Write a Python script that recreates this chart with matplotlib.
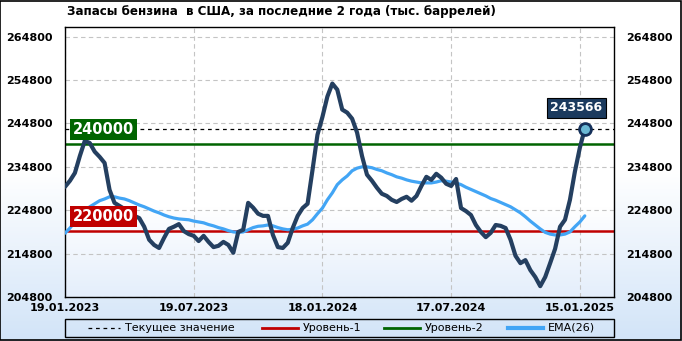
import numpy as np
import matplotlib.pyplot as plt
from matplotlib.colors import LinearSegmentedColormap
from matplotlib.lines import Line2D

title = "Запасы бензина  в США, за последние 2 года (тыс. баррелей)"

# weekly gasoline stocks, thousand barrels
stocks = [230200, 231600, 233400, 237300, 240800, 240300, 238300, 237100, 235700, 229500,
          226500, 225800, 225100, 224200, 223500, 223000, 221000, 218000, 216800, 216100,
          218400, 220500, 221000, 221600, 220000, 219300, 218900, 217700, 218900, 217500,
          216300, 216600, 217500, 216800, 215000, 219800, 220300, 226500, 225400, 224000,
          223500, 223500, 219100, 216300, 216100, 217300, 220700, 223500, 225300, 226300,
          234100, 242200, 246300, 251000, 254000, 252600, 248000, 247300, 245900, 242700,
          237300, 233000, 231600, 230000, 228600, 228100, 227200, 226700, 227400, 227900,
          227000, 228100, 230400, 232500, 231800, 233200, 232300, 230900, 230400, 232000,
          225300, 224600, 223700, 221400, 219800, 218600, 219600, 221400, 221200, 220700,
          218000, 214300, 212600, 213300, 211000, 209400, 207300, 209400, 212600, 215900,
          221000, 222600, 227200, 233700, 239200, 243566]

ema26 = [219500, 220700, 222100, 223300, 224400, 225600, 226300, 227000, 227400, 227900,
         227900, 227600, 227400, 227000, 226500, 226000, 225600, 225100, 224600, 224200,
         223700, 223300, 223000, 222800, 222700, 222600, 222300, 222100, 221900, 221500,
         221200, 220800, 220500, 220100, 219800, 219700, 219800, 220300, 220800, 221100,
         221200, 221400, 221200, 220800, 220500, 220300, 220400, 220700, 221200, 221600,
         222600, 224000, 225300, 227200, 228800, 230700, 231800, 232700, 233900, 234500,
         234800, 234800, 234600, 234200, 233900, 233400, 233000, 232500, 232200, 231800,
         231500, 231300, 231100, 231100, 231100, 231300, 231600, 231500, 231300, 231100,
         230700, 230100, 229600, 229100, 228600, 228100, 227500, 227100, 226600, 226100,
         225600, 224900, 224200, 223300, 222300, 221400, 220500, 219700, 219300, 219100,
         219100, 219300, 219800, 221000, 222100, 223500]

date_labels = ["19.01.2023", "19.07.2023", "18.01.2024", "17.07.2024", "15.01.2025"]
date_pos = [0, 26, 52, 78, 104]
yticks = [204800, 214800, 224800, 234800, 244800, 254800, 264800]
level1 = 220000
level2 = 240000

weeks = np.arange(len(stocks))
current = stocks[-1]
W, H = 682, 341

fig = plt.figure(figsize=(6.82, 3.41), dpi=100)

# background gradient + frame
bg = fig.add_axes([0, 0, 1, 1], zorder=-10)
bg_cmap = LinearSegmentedColormap.from_list("bg", ["#d2e4f8", "#ffffff", "#ffffff"])
bg.imshow(np.linspace(0, 1, 256).reshape(-1, 1), aspect="auto", cmap=bg_cmap,
          extent=[0, 1, 0, 1], origin="lower")
bg.set_xlim(0, 1)
bg.set_ylim(0, 1)
bg.axis("off")
bg.add_patch(plt.Rectangle((0.0007, 0.0015), 0.9985, 0.997, fill=False,
                           edgecolor="black", lw=1.2))

ax = fig.add_axes([65 / W, 44 / H, 549 / W, 270 / H])
ax_cmap = LinearSegmentedColormap.from_list("pa", ["#e4eefb", "#ffffff", "#ffffff", "#ffffff"])
ax.imshow(np.linspace(0, 1, 256).reshape(-1, 1), aspect="auto", cmap=ax_cmap,
          extent=[0, 1, 0, 1], origin="lower", transform=ax.transAxes, zorder=0)

ax.grid(True, linestyle=(0, (4, 3)), color="#c4c4c4", lw=0.8, zorder=1)

ax.axhline(current, color="black", lw=0.9, ls=(0, (3, 3)), zorder=2)
ax.axhline(level1, color="#c00000", lw=1.8, zorder=2)
ax.axhline(level2, color="#006400", lw=1.8, zorder=2)
ax.plot(weeks, ema26, color="#42a5f5", lw=2.3, zorder=3, solid_capstyle="round")
ax.plot(weeks, stocks, color="#243f60", lw=3.0, zorder=4, solid_joinstyle="round",
        solid_capstyle="round")
ax.plot(weeks[-1], current, "o", ms=8.5, mfc="#6ab8d4", mec="#14305a", mew=2, zorder=5)

ax.annotate(f"{level2}", (1.5, level2), xytext=(0, 5), textcoords="offset points",
            color="white", fontsize=10.5, fontweight="bold", va="bottom", ha="left",
            bbox=dict(boxstyle="square,pad=0.2", fc="#006400", ec="none"), zorder=6)
ax.annotate(f"{level1}", (1.5, level1), xytext=(0, 5), textcoords="offset points",
            color="white", fontsize=10.5, fontweight="bold", va="bottom", ha="left",
            bbox=dict(boxstyle="square,pad=0.2", fc="#c00000", ec="none"), zorder=6)
ax.annotate(f"{current}", (weeks[-1], current), xytext=(-6, 15), textcoords="offset points",
            color="white", fontsize=9, fontweight="bold", va="center", ha="center",
            bbox=dict(boxstyle="square,pad=0.3", fc="#1b3a5e", ec="black", lw=0.8), zorder=6)

ax.set_xlim(0, 110.9)
ax.set_ylim(204800, 267040)
ax.set_xticks(date_pos)
ax.set_xticklabels(date_labels)
ax.set_yticks(yticks)
ax.set_yticklabels([str(v) for v in yticks])
ax.tick_params(axis="y", length=0, labelright=True, pad=9, labelsize=8)
ax.tick_params(axis="x", length=0, pad=4, labelsize=8)
for lab in ax.get_xticklabels() + ax.get_yticklabels():
    lab.set_fontweight("bold")
for t in ax.yaxis.get_major_ticks():
    t.label2.set_fontweight("bold")
for sp in ax.spines.values():
    sp.set_color("black")
    sp.set_linewidth(1)

fig.text(67 / W, 1 - 12 / H, title, fontsize=8.6, fontweight="bold", va="center", ha="left")

# legend drawn by hand to match the spacing
bg.add_patch(plt.Rectangle((65 / W, 4 / H), 549 / W, 18 / H, fill=False,
                           edgecolor="black", lw=1))
names = ["Текущее значение", "Уровень-1", "Уровень-2", "EMA(26)"]
styles = [dict(color="black", lw=0.9, ls=(0, (3, 3))),
          dict(color="#c00000", lw=2),
          dict(color="#006400", lw=2),
          dict(color="#42a5f5", lw=3)]
handle_x = [(88, 120), (262, 298), (384, 420), (508, 543)]
ly = 1 - 328 / H
for name, st, (x0, x1) in zip(names, styles, handle_x):
    bg.add_line(Line2D([x0 / W, x1 / W], [ly, ly], **st))
    bg.text((x1 + 5) / W, ly, name, fontsize=8, va="center", ha="left")

fig.savefig("out.png", dpi=100)
